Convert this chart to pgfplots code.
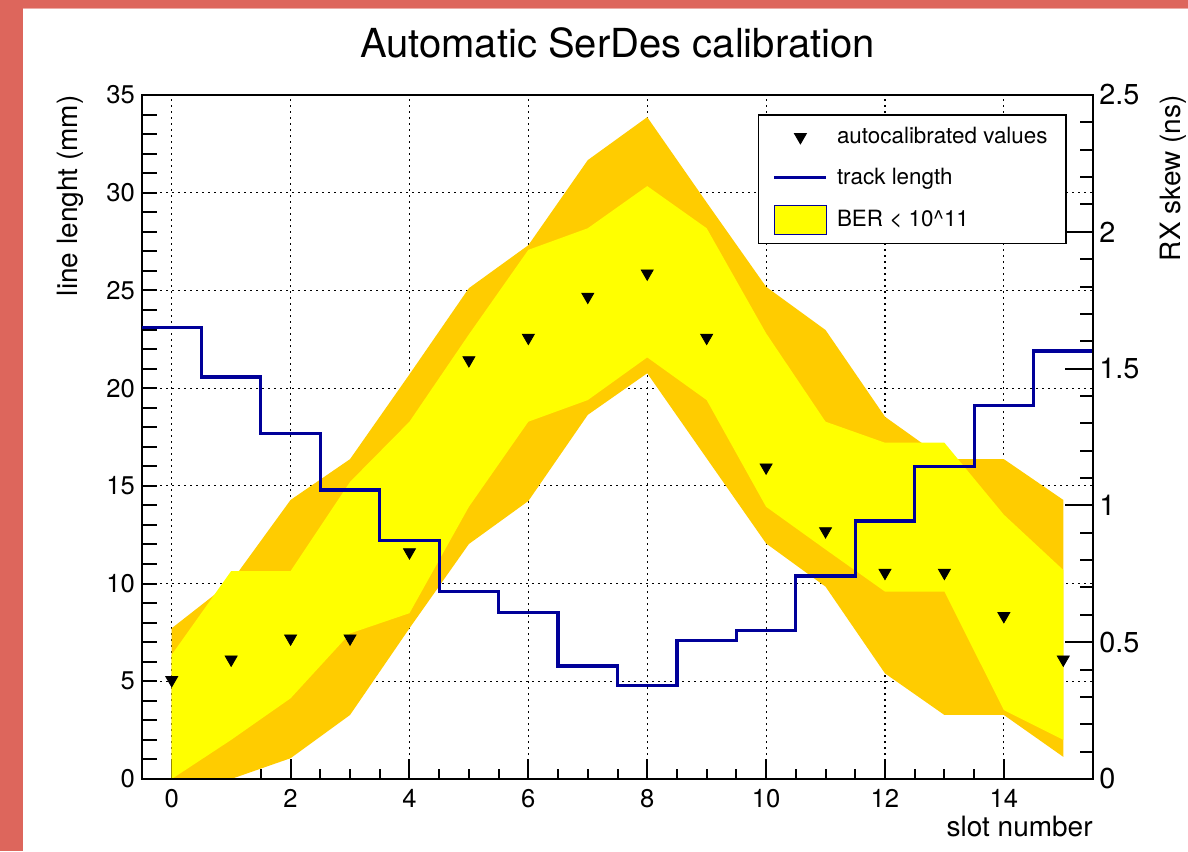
\documentclass[border=0pt]{standalone}
\usepackage{fontspec}
\setmainfont{TeX Gyre Heros}
\usepackage{pgfplots}
\pgfplotsset{compat=1.18}
\definecolor{rootred}{RGB}{221,102,92}
\definecolor{borange}{RGB}{255,204,0}
\definecolor{byellow}{RGB}{255,255,0}
\definecolor{rootnavy}{RGB}{0,0,153}
\pgfplotsset{
  base/.style={scale only axis, width=475.5pt, height=342pt,
    xmin=-0.5, xmax=15.5, at={(71pt,36pt)}, anchor=south west,
    /pgf/number format/assume math mode=true},
  legmark/.style={legend image code/.code={\draw[mark repeat=2,mark phase=2,##1] plot coordinates {(0pt,0pt)(13pt,0pt)(26pt,0pt)};\path (28.5pt,0pt);}},
  legline/.style={legend image code/.code={\draw[##1] (0pt,0pt) -- (26pt,0pt);\path (28.5pt,0pt);}},
  legbox/.style={legend image code/.code={\draw[##1] (0pt,-7.25pt) rectangle (26pt,7.25pt);\path (28.5pt,0pt);}},
}
\begin{document}
\begin{tikzpicture}
\fill[rootred] (0,0) rectangle (594pt,425.5pt);
\fill[white] (11.35pt,0) rectangle (594pt,421pt);
\draw[rootred!55!white, line width=0.5pt] (11.35pt,421.25pt) -- (594pt,421.25pt);

% axis 1: grid and x ticks (below the bands)
\begin{axis}[base, ymin=0, ymax=35,
  xtick={0,2,...,14}, minor x tick num=3, ytick={5,10,...,30},
  xmajorgrids, ymajorgrids,
  major grid style={black, line width=0.6pt, dash pattern=on 0.8pt off 2.2pt},
  xtick pos=bottom, tick align=inside,
  major tick length=10pt, minor tick length=5pt,
  tick style={black, line width=1pt},
  ytick style={draw=none}, yticklabels={},
  xticklabel style={font=\fontsize{12.8}{15}\selectfont, anchor=base, yshift=-14pt},
  axis line style={draw=none}]
\end{axis}

% axis 2: BER bands (ns)
\begin{axis}[base, ymin=0, ymax=2.5, hide axis]
\addplot[fill=borange, draw=none] coordinates {
 (0,0.551)(1,0.721)(2,1.020)(3,1.169)(4,1.479)(5,1.794)(6,1.951)(7,2.262)
 (8,2.419)(9,2.107)(10,1.799)(11,1.641)(12,1.324)(13,1.169)(14,1.169)(15,1.020)
 (15,0.081)(14,0.234)(13,0.234)(12,0.386)(11,0.703)(10,0.861)(9,1.172)(8,1.483)
 (7,1.331)(6,1.016)(5,0.859)(4,0.551)(3,0.234)(2,0.076)(1,0)(0,0)} -- cycle;
\addplot[fill=byellow, draw=none] coordinates {
 (0,0.454)(1,0.760)(2,0.760)(3,1.086)(4,1.306)(5,1.625)(6,1.934)(7,2.013)
 (8,2.167)(9,2.013)(10,1.629)(11,1.306)(12,1.229)(13,1.229)(14,0.966)(15,0.764)
 (15,0.143)(14,0.252)(13,0.685)(12,0.685)(11,0.839)(10,0.995)(9,1.385)(8,1.541)
 (7,1.385)(6,1.306)(5,0.995)(4,0.606)(3,0.532)(2,0.295)(1,0.143)(0,0)} -- cycle;
\end{axis}

% axis 3: frame, left axis (mm), track length
\begin{axis}[base, ymin=0, ymax=35,
  xtick=\empty, ytick={0,5,...,35}, minor y tick num=4, ytick pos=left,
  tick align=inside, major tick length=7.5pt, minor tick length=7.5pt,
  tick style={black, line width=1pt},
  axis line style={line width=1pt},
  yticklabel style={font=\fontsize{12.8}{15}\selectfont},
  title={Automatic SerDes calibration},
  every axis title/.style={at={(axis description cs:0.5,1)}, anchor=base, yshift=18.5pt, font=\fontsize{20}{24}\selectfont},
  xlabel={slot number},
  every axis x label/.style={at={(axis description cs:1,0)}, anchor=base east, inner sep=0pt, yshift=-28.5pt, font=\fontsize{14}{17}\selectfont},
  ylabel={line lenght (mm)},
  every axis y label/.style={at={(axis description cs:-0.0683,1)}, rotate=90, anchor=base east, inner sep=0pt, font=\fontsize{14}{17}\selectfont}]
\addplot[const plot, rootnavy, line width=1.6pt] coordinates {
 (-0.5,23.09)(0.5,20.57)(1.5,17.69)(2.5,14.79)(3.5,12.19)(4.5,9.58)(5.5,8.51)(6.5,5.78)
 (7.5,4.79)(8.5,7.10)(9.5,7.59)(10.5,10.39)(11.5,13.20)(12.5,15.98)(13.5,19.12)(14.5,21.90)(15.5,21.90)};
\end{axis}

% axis 4: right axis (ns), autocalibrated values, legend
\begin{axis}[base, ymin=0, ymax=2.5,
  axis y line*=right, axis x line=none, ytick pos=right, yticklabel pos=right,
  ytick={0,0.5,1,1.5,2,2.5}, minor y tick num=4,
  tick align=inside, major tick length=14pt, minor tick length=6.5pt,
  tick style={black, line width=1pt},
  axis line style={line width=1pt},
  yticklabel style={font=\fontsize{14.4}{17}\selectfont, anchor=west, inner xsep=3pt},
  ylabel={RX skew (ns)},
  every axis y label/.style={at={(axis description cs:1.0915,1)}, rotate=90, anchor=base east, inner sep=0pt, font=\fontsize{14}{17}\selectfont},
  legend style={at={(0.9725,0.9722)}, anchor=north east, draw=black, line width=0.8pt,
    font=\fontsize{11.2}{13.5}\selectfont, row sep=6.75pt, inner xsep=7.25pt, inner ysep=4.25pt},
  legend cell align=left]
\addplot[only marks, mark=triangle*, mark size=3.46pt, black,
  mark options={rotate=180, line width=0.4pt}, legmark]
 coordinates {(0,0.362)(1,0.437)(2,0.514)(3,0.514)(4,0.829)(5,1.531)(6,1.613)(7,1.763)
 (8,1.848)(9,1.613)(10,1.139)(11,0.906)(12,0.754)(13,0.754)(14,0.596)(15,0.437)};
\addlegendentry{autocalibrated values}
\addlegendimage{rootnavy, line width=1.6pt, legline}
\addlegendentry{track length}
\addlegendimage{fill=byellow, draw=rootnavy, line width=0.5pt, legbox}
\addlegendentry{BER < 10\textasciicircum{}11}
\end{axis}
\pgfresetboundingbox
\useasboundingbox (0,0) rectangle (594pt,425.5pt);
\end{tikzpicture}
\end{document}
